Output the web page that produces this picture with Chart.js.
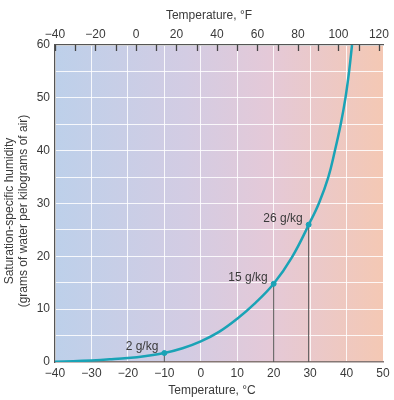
<!DOCTYPE html>
<html lang="en">
<head>
  <meta charset="UTF-8">
  <title>Saturation-specific humidity</title>
  <style>
    body {
      margin: 0;
      padding: 0;
      background-color: #fff;
    }
    #wrap {
      width: 394px;
      height: 400px;
    }
  </style>
  <script src="https://cdn.jsdelivr.net/npm/chart.js"></script>
</head>
<body>
  <div id="wrap"><canvas id="grafico"></canvas></div>

  <script>
    // curve (°C -> g/kg)
    const tempC = [-40, -35, -30, -25, -20, -15, -10, -5, 0, 5, 10, 15, 20, 25, 30, 32.5, 35, 36.8, 38.4, 39.7, 40.7, 41.5];
    const humidity = [0.05, 0.15, 0.3, 0.5, 0.75, 1.15, 1.7, 2.6, 3.9, 5.7, 8.2, 11.2, 14.8, 19.8, 26.5, 30.2, 35, 40, 45, 50, 55, 60];

    // marked points
    const markTemp = [-10, 20, 29.6];
    const markHum = [1.7, 14.8, 26];
    const markLabels = ['2 g/kg', '15 g/kg', '26 g/kg'];

    const fonte = '"Liberation Sans", Arial, sans-serif';
    const corTexto = '#3a3a3a';

    const menos = v => (v < 0 ? '\u2212' + Math.abs(v) : '' + v);

    const curva = tempC.map((c, i) => ({ x: c, y: humidity[i] }));
    const marcas = markTemp.map((c, i) => ({ x: c, y: markHum[i] }));

    // vertical drop lines from each marked point to the axis
    const quedas = markTemp.map((c, i) => ({
      type: 'line',
      data: [{ x: c, y: 0 }, { x: c, y: markHum[i] }],
      borderColor: '#555',
      borderWidth: 1,
      pointRadius: 0,
      order: 3
    }));

    const fundo = {
      id: 'fundo',
      beforeDraw(chart) {
        const { ctx, chartArea: a } = chart;
        const g = ctx.createLinearGradient(a.left, 0, a.right, 0);
        g.addColorStop(0, '#bdd0ea');
        g.addColorStop(0.4, '#d3cce3');
        g.addColorStop(0.65, '#e4c9d8');
        g.addColorStop(1, '#f4c8b4');
        ctx.save();
        ctx.fillStyle = g;
        ctx.fillRect(a.left, a.top, a.right - a.left, a.bottom - a.top);
        ctx.restore();
      }
    };

    const extras = {
      id: 'extras',
      afterDatasetsDraw(chart) {
        const { ctx, chartArea: a } = chart;
        ctx.save();
        // top axis tick marks, pointing inward
        const x2 = chart.scales.x2;
        ctx.strokeStyle = '#444';
        ctx.lineWidth = 1.3;
        x2.ticks.forEach(t => {
          const px = Math.round(x2.getPixelForValue(t.value)) + 0.5;
          ctx.beginPath();
          ctx.moveTo(px, a.top);
          ctx.lineTo(px, a.top + 6);
          ctx.stroke();
        });

        // point labels
        const meta = chart.getDatasetMeta(0);
        ctx.fillStyle = corTexto;
        ctx.font = '12px ' + fonte;
        ctx.textAlign = 'right';
        ctx.textBaseline = 'alphabetic';
        meta.data.forEach((p, i) => {
          ctx.fillText(markLabels[i], p.x - 6, p.y - 3);
        });

        // axis titles
        ctx.textAlign = 'center';
        ctx.textBaseline = 'middle';
        ctx.fillText('Temperature, \u00b0F', 209, 16);
        ctx.fillText('Temperature, \u00b0C', 212, 391);
        ctx.translate(17, 211);
        ctx.rotate(-Math.PI / 2);
        ctx.fillText('Saturation-specific humidity', 0, -7);
        ctx.fillText('(grams of water per kilograms of air)', 0, 7);
        ctx.restore();
      }
    };

    new Chart(document.getElementById('grafico'), {
      type: 'line',
      data: {
        datasets: [
          {
            type: 'scatter',
            data: marcas,
            backgroundColor: '#1aa3b6',
            borderColor: '#1aa3b6',
            pointRadius: 2.5,
            pointHoverRadius: 2.5,
            order: 1
          },
          {
            data: curva,
            borderColor: '#1aa3b6',
            borderWidth: 2.5,
            pointRadius: 0,
            tension: 0.4,
            fill: false,
            order: 2
          },
          ...quedas
        ]
      },
      options: {
        responsive: true,
        maintainAspectRatio: false,
        animation: false,
        layout: { padding: { left: 0, right: 11, top: 0, bottom: 0 } },
        plugins: {
          legend: { display: false },
          tooltip: { enabled: false }
        },
        scales: {
          x: {
            type: 'linear',
            position: 'bottom',
            min: -40,
            max: 50,
            ticks: {
              stepSize: 10,
              color: corTexto,
              font: { family: fonte, size: 12 },
              padding: 4,
              maxRotation: 0,
              callback: v => menos(v)
            },
            grid: {
              color: 'rgba(255,255,255,0.85)',
              lineWidth: 1,
              drawTicks: false
            },
            border: { color: '#857774', width: 1.5 },
            afterFit: s => { s.height = 38; }
          },
          x2: {
            type: 'linear',
            position: 'top',
            min: -40,
            max: 122,
            ticks: {
              stepSize: 10,
              includeBounds: false,
              color: corTexto,
              font: { family: fonte, size: 12 },
              padding: 3,
              maxRotation: 0,
              autoSkip: false,
              callback: v => (v % 20 === 0 ? menos(v) : '')
            },
            grid: { drawOnChartArea: false, drawTicks: false },
            border: { color: '#555', width: 1.3 },
            afterFit: s => { s.height = 45; }
          },
          y: {
            min: 0,
            max: 60,
            ticks: {
              stepSize: 5,
              color: corTexto,
              font: { family: fonte, size: 12 },
              padding: 5,
              callback: v => (v % 10 === 0 ? v : '')
            },
            grid: {
              color: 'rgba(255,255,255,0.85)',
              lineWidth: 1,
              drawTicks: false
            },
            border: { color: '#555', width: 1.3 },
            afterFit: s => { s.width = 55; }
          }
        }
      },
      plugins: [fundo, extras]
    });
  </script>
</body>
</html>
